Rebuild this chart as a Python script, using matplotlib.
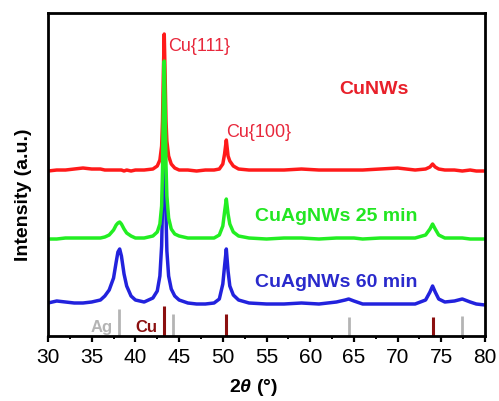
import numpy as np
import matplotlib
matplotlib.use("Agg")
import matplotlib.pyplot as plt

plt.rcParams['font.family'] = ['Liberation Sans', 'DejaVu Sans']
plt.rcParams['mathtext.fontset'] = 'custom'
plt.rcParams['mathtext.bfit'] = 'Liberation Sans:bold:italic'
plt.rcParams['mathtext.rm'] = 'Liberation Sans'

# 2theta grid (deg), denser around the peaks
two_theta = [30, 31, 32, 33, 34, 35, 36, 36.5, 37, 37.5, 37.8, 38.0, 38.2, 38.4, 38.7,
             39.0, 39.5, 40, 41, 42, 42.5, 42.8, 43.0, 43.1, 43.2, 43.3, 43.4, 43.5,
             43.6, 43.8, 44.1, 44.5, 45, 46, 47, 48, 49, 49.6, 50.0, 50.2, 50.4, 50.6,
             50.8, 51.2, 51.8, 53, 55, 57, 59, 61, 63, 64, 64.4, 65, 66, 68, 70, 72,
             73.2, 73.7, 74.0, 74.3, 74.7, 75.4, 76.5, 77.4, 78.3, 79, 80]

# stacked intensities (a.u.), offset already included as in the figure
cu_nws = [165, 166, 166, 167, 168, 167, 167, 166, 166, 166, 166, 166, 166, 166, 165,
          166, 165, 166, 166, 167, 170, 176, 190, 215, 265, 302, 260, 215,
          195, 180, 172, 168, 166, 166, 165, 166, 166, 167, 172, 182, 196, 180,
          175, 170, 167, 166, 166, 166, 167, 166, 166, 166, 166, 166, 166, 167, 168, 166,
          167, 169, 172, 169, 167, 166, 166, 165, 166, 165, 165]

cuag_25 = [97, 97, 98, 98, 98, 98, 98, 99, 101, 106, 111, 113, 114, 112, 107,
           103, 100, 98, 98, 100, 104, 112, 130, 165, 230, 275, 230, 170,
           140, 118, 107, 102, 100, 98, 98, 98, 98, 101, 110, 124, 137, 122,
           112, 104, 100, 98, 97, 98, 98, 97, 98, 98, 98, 98, 97, 98, 98, 98,
           101, 107, 112, 107, 101, 98, 98, 98, 97, 97, 97]

cuag_60 = [33, 35, 34, 33, 33, 34, 36, 40, 46, 58, 74, 84, 87, 80, 62,
           50, 40, 36, 34, 38, 45, 60, 90, 130, 190, 215, 180, 120,
           85, 60, 47, 40, 36, 33, 32, 32, 33, 37, 52, 70, 87, 65,
           50, 41, 36, 33, 32, 32, 33, 32, 34, 36, 37, 35, 32, 32, 32, 32,
           36, 44, 50, 44, 37, 34, 35, 37, 34, 32, 31]

# reference patterns (stick positions and heights)
ag_ref_pos = [38.1, 44.3, 64.4, 77.4]
ag_ref_h = [27, 22, 19, 20]
cu_ref_pos = [43.3, 50.4, 74.1]
cu_ref_h = [30, 22, 19]

red = '#ff1a1a'
green = '#22ee22'
blue = '#2222dd'
ag_gray = '#b4b4b4'
cu_dark = '#8b1010'

fig = plt.figure(figsize=(4.99, 4.02), dpi=100)
ax = fig.add_axes([0.0962, 0.1617, 0.8758, 0.8034])

ax.plot(two_theta, cu_nws, color=red, lw=2.5, zorder=2)
ax.plot(two_theta, cuag_25, color=green, lw=2.5, zorder=3)
ax.plot(two_theta, cuag_60, color=blue, lw=2.5, zorder=1)

ax.vlines(ag_ref_pos, 0, ag_ref_h, color=ag_gray, lw=2)
ax.vlines(cu_ref_pos, 0, cu_ref_h, color=cu_dark, lw=2.2)

ax.text(43.7, 291, 'Cu{111}', color='#e8283c', fontsize=13, va='center', ha='left')
ax.text(50.4, 205, 'Cu{100}', color='#e8283c', fontsize=13, va='center', ha='left')
ax.text(67.3, 248, 'CuNWs', color='#e8202a', fontsize=14, fontweight='bold',
        ha='center', va='center')
ax.text(53.7, 121, 'CuAgNWs 25 min', color='#22e622', fontsize=14, fontweight='bold',
        ha='left', va='center')
ax.text(53.7, 55, 'CuAgNWs 60 min', color='#2a2acc', fontsize=14, fontweight='bold',
        ha='left', va='center')
ax.text(37.4, 9, 'Ag', color=ag_gray, fontsize=12, fontweight='bold', ha='right', va='center')
ax.text(42.5, 9, 'Cu', color=cu_dark, fontsize=12, fontweight='bold', ha='right', va='center')

ax.set_xlim(30, 80)
ax.set_ylim(0, 323)
ax.set_xticks(np.arange(30, 81, 5))
ax.set_xticks(np.arange(32.5, 80, 5), minor=True)
ax.set_yticks([])
ax.tick_params(axis='x', which='major', direction='out', length=4, width=1.6,
               labelsize=15, pad=4)
ax.tick_params(axis='x', which='minor', direction='out', length=2.5, width=1.4)
for s in ax.spines.values():
    s.set_visible(True)
    s.set_linewidth(2)
    s.set_color('black')
    s.set_zorder(5)

ax.set_xlabel(r'2$\mathbfit{\theta}$ (°)', fontsize=14, fontweight='bold')
ax.xaxis.set_label_coords(0.47, -0.125)
ax.set_ylabel('Intensity (a.u.)', fontsize=14, fontweight='bold')
ax.yaxis.set_label_coords(-0.037, 0.44)

fig.savefig('out.png', dpi=100)
